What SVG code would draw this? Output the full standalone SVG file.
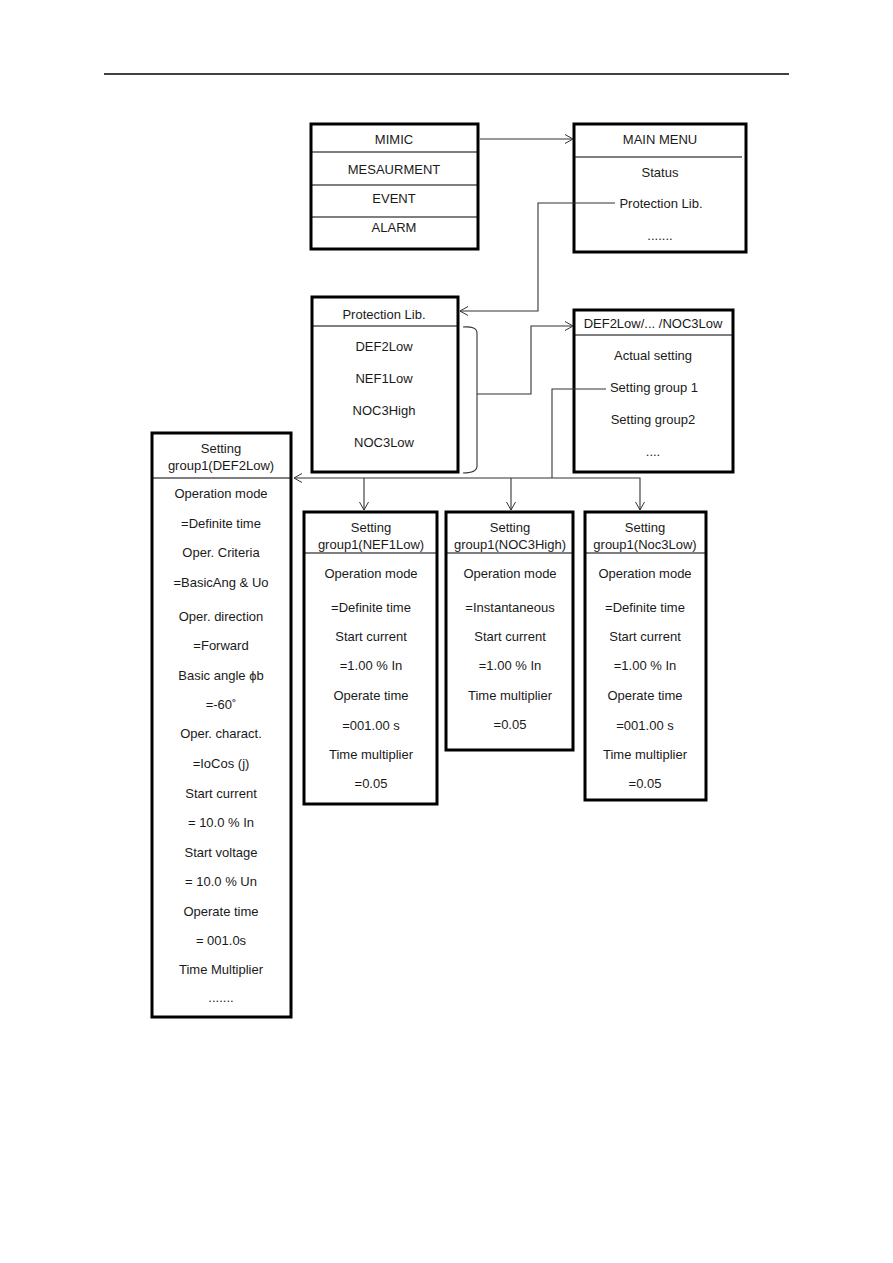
<svg xmlns="http://www.w3.org/2000/svg" width="893" height="1263" viewBox="0 0 893 1263">
<defs>
<marker id="arr" markerUnits="userSpaceOnUse" markerWidth="12" markerHeight="12" refX="9" refY="5" orient="auto">
<path d="M1,0.5 L9,5 L1,9.5" fill="none" stroke="#333" stroke-width="1"/>
</marker>
</defs>
<style>
.box{fill:#fff;stroke:#000;stroke-width:3}
.sep{stroke:#000;stroke-width:1.2}
.t{font-family:"Liberation Sans",Arial,sans-serif;font-size:13px;fill:#1a1a1a;text-anchor:middle;dominant-baseline:central}
.c{fill:none;stroke:#333;stroke-width:1.1}
.ca{fill:none;stroke:#333;stroke-width:1.1;marker-end:url(#arr)}
</style>
<rect width="893" height="1263" fill="#fff"/>
<line x1="104" y1="74" x2="789" y2="74" stroke="#000" stroke-width="1.5"/>

<g id="mimic">
<rect class="box" x="311" y="124" width="167" height="125"/>
<line class="sep" x1="311" y1="152" x2="478" y2="152"/>
<line class="sep" x1="311" y1="185" x2="478" y2="185"/>
<line class="sep" x1="311" y1="217" x2="478" y2="217"/>
<text class="t" x="394" y="139">MIMIC</text>
<text class="t" x="394" y="169">MESAURMENT</text>
<text class="t" x="394" y="198">EVENT</text>
<text class="t" x="394" y="227">ALARM</text>
</g>

<g id="mainmenu">
<rect class="box" x="574" y="124" width="172" height="128"/>
<line class="sep" x1="574" y1="157" x2="742" y2="157"/>
<text class="t" x="660" y="139">MAIN MENU</text>
<text class="t" x="660" y="172">Status</text>
<text class="t" x="661" y="203">Protection Lib.</text>
<text class="t" x="660" y="235">.......</text>
</g>

<g id="protlib">
<rect class="box" x="312" y="297" width="146" height="175"/>
<line class="sep" x1="312" y1="326" x2="458" y2="326"/>
<text class="t" x="384" y="314">Protection Lib.</text>
<text class="t" x="384" y="346">DEF2Low</text>
<text class="t" x="384" y="378">NEF1Low</text>
<text class="t" x="384" y="410">NOC3High</text>
<text class="t" x="384" y="442">NOC3Low</text>
</g>

<g id="def2low">
<rect class="box" x="574" y="310" width="159" height="162"/>
<line class="sep" x1="574" y1="335" x2="733" y2="335"/>
<text class="t" x="653" y="323">DEF2Low/... /NOC3Low</text>
<text class="t" x="653" y="355">Actual setting</text>
<text class="t" x="654" y="387">Setting group 1</text>
<text class="t" x="653" y="419">Setting group2</text>
<text class="t" x="653" y="451">....</text>
</g>

<g id="sg-def2low">
<rect class="box" x="152" y="433" width="139" height="584"/>
<line class="sep" x1="152" y1="478" x2="291" y2="478"/>
<text class="t" x="221" y="448">Setting</text>
<text class="t" x="221" y="465">group1(DEF2Low)</text>
<text class="t" x="221" y="493">Operation mode</text>
<text class="t" x="221" y="523">=Definite time</text>
<text class="t" x="221" y="552">Oper. Criteria</text>
<text class="t" x="221" y="582">=BasicAng &amp; Uo</text>
<text class="t" x="221" y="616">Oper. direction</text>
<text class="t" x="221" y="645">=Forward</text>
<text class="t" x="221" y="675">Basic angle ϕb</text>
<text class="t" x="221" y="704">=-60˚</text>
<text class="t" x="221" y="733">Oper. charact.</text>
<text class="t" x="221" y="763">=IoCos (j)</text>
<text class="t" x="221" y="793">Start current</text>
<text class="t" x="221" y="822">= 10.0 % In</text>
<text class="t" x="221" y="852">Start voltage</text>
<text class="t" x="221" y="881">= 10.0 % Un</text>
<text class="t" x="221" y="911">Operate time</text>
<text class="t" x="221" y="940">= 001.0s</text>
<text class="t" x="221" y="969">Time Multiplier</text>
<text class="t" x="221" y="997">.......</text>
</g>

<g id="sg-nef1low">
<rect class="box" x="304" y="512" width="133" height="292"/>
<line class="sep" x1="304" y1="553" x2="437" y2="553"/>
<text class="t" x="371" y="527">Setting</text>
<text class="t" x="371" y="544">group1(NEF1Low)</text>
<text class="t" x="371" y="573">Operation mode</text>
<text class="t" x="371" y="607">=Definite time</text>
<text class="t" x="371" y="636">Start current</text>
<text class="t" x="371" y="665">=1.00 % In</text>
<text class="t" x="371" y="695">Operate time</text>
<text class="t" x="371" y="725">=001.00  s</text>
<text class="t" x="371" y="754">Time multiplier</text>
<text class="t" x="371" y="783">=0.05</text>
</g>

<g id="sg-noc3high">
<rect class="box" x="446" y="512" width="127" height="238"/>
<line class="sep" x1="446" y1="553" x2="573" y2="553"/>
<text class="t" x="510" y="527">Setting</text>
<text class="t" x="510" y="544">group1(NOC3High)</text>
<text class="t" x="510" y="573">Operation mode</text>
<text class="t" x="510" y="607">=Instantaneous</text>
<text class="t" x="510" y="636">Start current</text>
<text class="t" x="510" y="665">=1.00 % In</text>
<text class="t" x="510" y="695">Time multiplier</text>
<text class="t" x="510" y="724">=0.05</text>
</g>

<g id="sg-noc3low">
<rect class="box" x="585" y="512" width="121" height="288"/>
<line class="sep" x1="585" y1="553" x2="706" y2="553"/>
<text class="t" x="645" y="527">Setting</text>
<text class="t" x="645" y="544">group1(Noc3Low)</text>
<text class="t" x="645" y="573">Operation mode</text>
<text class="t" x="645" y="607">=Definite time</text>
<text class="t" x="645" y="636">Start current</text>
<text class="t" x="645" y="665">=1.00 % In</text>
<text class="t" x="645" y="695">Operate time</text>
<text class="t" x="645" y="725">=001.00  s</text>
<text class="t" x="645" y="754">Time multiplier</text>
<text class="t" x="645" y="783">=0.05</text>
</g>

<g id="connectors">
<path class="ca" d="M480,139 H573"/>
<path class="ca" d="M615,203 H538 V311 H460"/>
<path class="c" d="M463,327 Q477,326 477,333 V466 Q477,473 463,473"/>
<path class="ca" d="M477,394 H531 V326 H573"/>
<path class="c" d="M606,389 H552 V478"/>
<path class="ca" d="M552,478 H294"/>
<path class="ca" d="M364,478 V510"/>
<path class="ca" d="M552,478 H640 V510"/>
<path class="ca" d="M511,478 V510"/>
</g>
</svg>
